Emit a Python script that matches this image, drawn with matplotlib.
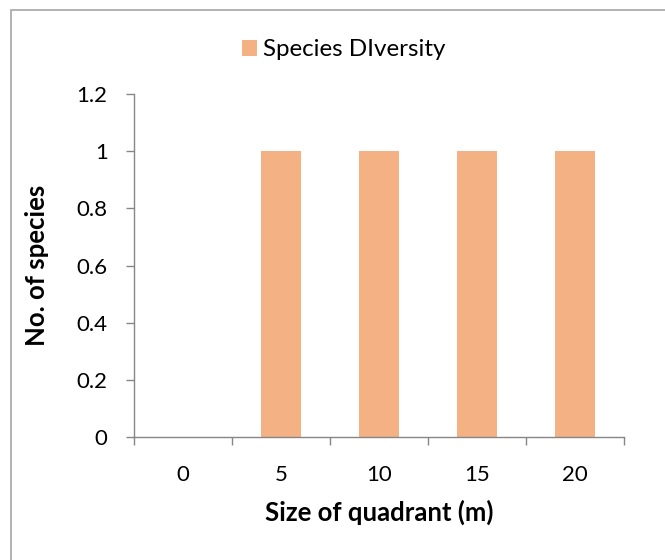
import matplotlib
matplotlib.use('agg')
import matplotlib.pyplot as plt
from matplotlib.patches import Rectangle

# quadrant sizes and number of species found in each
sizes = ['0', '5', '10', '15', '20']
species = [0, 1, 1, 1, 1]
yticks = [0, 0.2, 0.4, 0.6, 0.8, 1, 1.2]
ylabels = ['0', '0.2', '0.4', '0.6', '0.8', '1', '1.2']

plt.rcParams['font.family'] = ['Lato', 'DejaVu Sans']
W, H = 665, 560
fig = plt.figure(figsize=(W / 100, H / 100), dpi=100)

# chart frame (only top and left edges fall inside the image)
fig.patches.append(Rectangle((11 / W, -0.1), 1.2, (H - 10) / H + 0.1,
                             transform=fig.transFigure, fill=False,
                             edgecolor='#a6a6a6', linewidth=1.2))

ax = fig.add_axes([134 / W, 1 - 437 / H, (624 - 134) / W, (437 - 94) / H])
x = list(range(len(sizes)))
ax.bar(x, species, width=0.4, color='#f4b183', label='Species DIversity', zorder=2)

ax.set_xlim(-0.5, len(sizes) - 0.5)
ax.set_ylim(0, 1.2)
ax.set_yticks(yticks)
ax.set_yticklabels(ylabels)
ax.set_xticks(x)
ax.set_xticklabels(sizes)
ax.set_xticks([i - 0.5 for i in range(len(sizes) + 1)], minor=True)

for s in ['top', 'right']:
    ax.spines[s].set_visible(False)
for s in ['left', 'bottom']:
    ax.spines[s].set_color('#868686')
    ax.spines[s].set_linewidth(1)

ax.tick_params(axis='y', length=6, width=1, color='#868686', labelsize=16, pad=13)
ax.tick_params(axis='x', which='major', length=0, labelsize=16, pad=20)
ax.tick_params(axis='x', which='minor', length=6, width=1, color='#868686')

ax.set_xlabel('Size of quadrant (m)', fontsize=18.5, fontweight='bold', va='center')
ax.set_ylabel('No. of species', fontsize=18.5, fontweight='bold', va='center')
ax.xaxis.set_label_coords(0.5, (437 - 512) / 343)
ax.yaxis.set_label_coords((37 - 134) / 490, 0.5)

fig.legend(loc='center', bbox_to_anchor=(344 / W, 1 - 50 / H), frameon=False,
           fontsize=17.4, handlelength=0.62, handleheight=0.62, handletextpad=0.25)

fig.savefig('out.png', dpi=100)
